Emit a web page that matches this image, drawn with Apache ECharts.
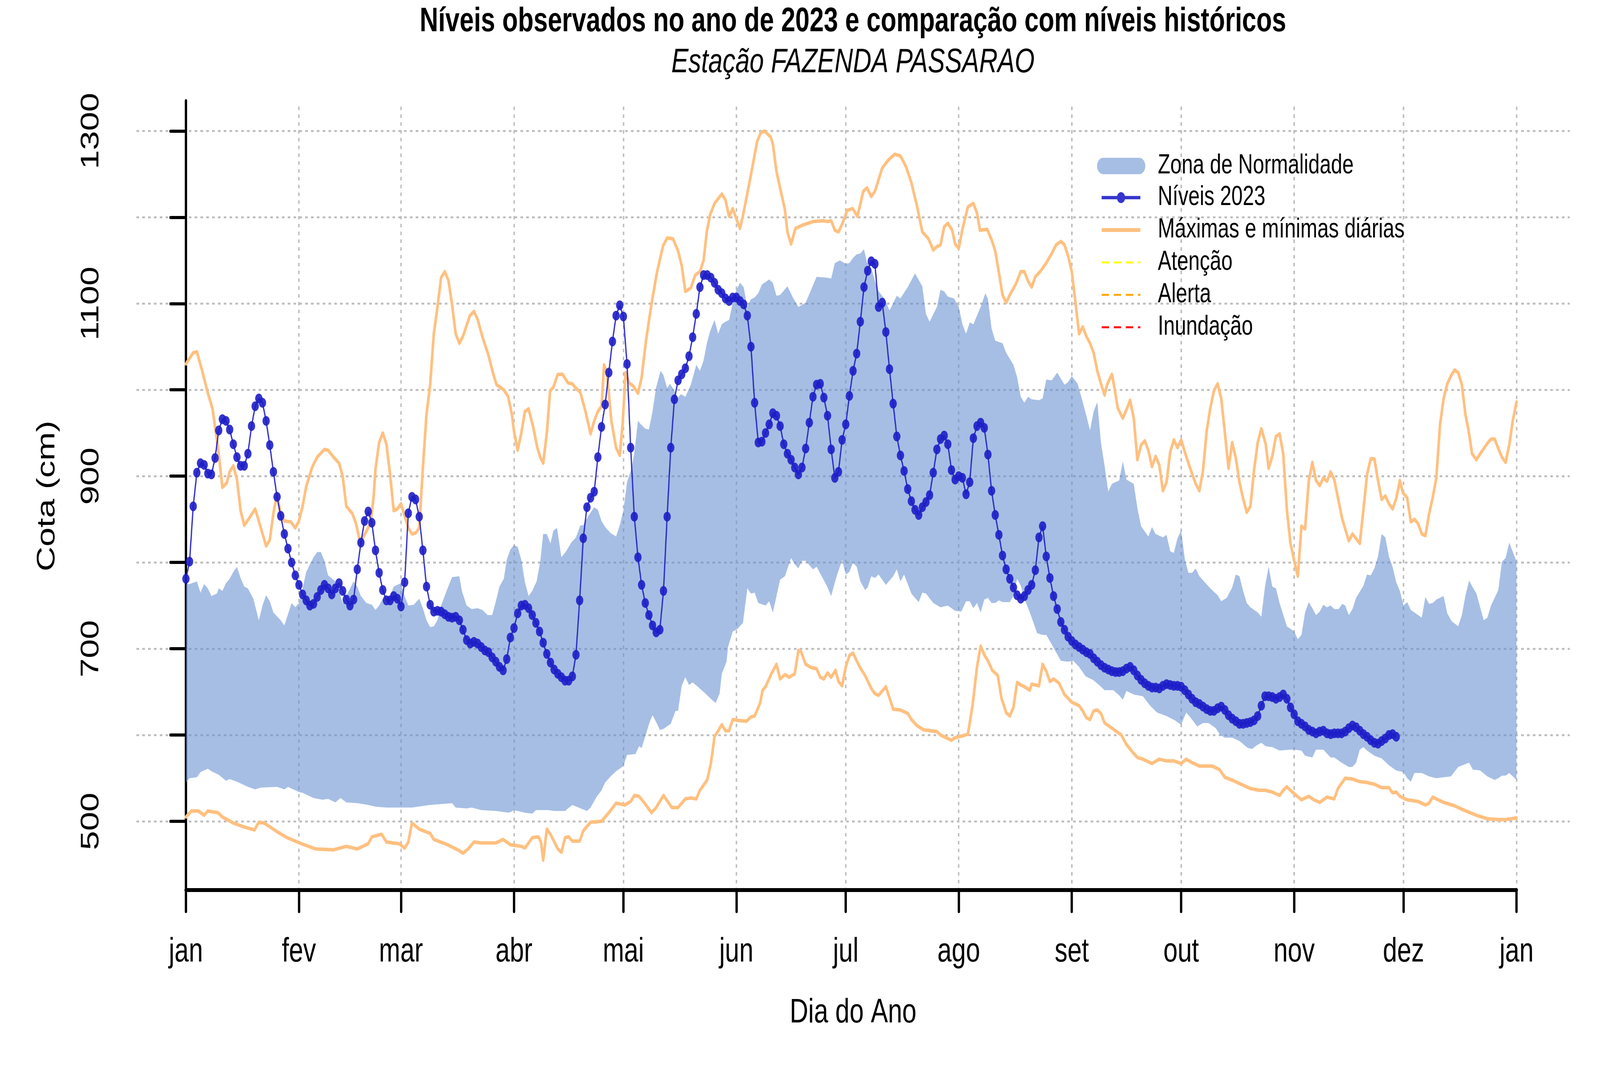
<!DOCTYPE html>
<html><head><meta charset="utf-8">
<script src="https://cdn.jsdelivr.net/npm/echarts@6/dist/echarts.min.js"></script>
<style>html,body{margin:0;padding:0;background:#fff;overflow:hidden}#wrap{position:absolute;left:0;top:0;width:5500px;height:2750px;transform-origin:0 0}#c{width:5500px;height:2750px}</style>
</head><body><div id="wrap"><div id="c"></div></div>
<script>
const monthTicks = [0,31,59,90,120,151,181,212,243,273,304,334,365];
const monthLabels = ['jan','fev','mar','abr','mai','jun','jul','ago','set','out','nov','dez','jan'];
const yTicks = [500,600,700,800,900,1000,1100,1200,1300];
const yLabels = [500,700,900,1100,1300];

// Níveis 2023, one value per day starting Jan 1 (day 0)
const levels2023 = [
781,801,865,904,915,913,903,902,921,953,
966,964,954,937,922,912,912,926,958,981,
990,985,964,936,905,876,854,833,816,800,
785,774,763,756,750,752,760,768,774,770,
763,770,776,767,757,750,757,792,823,848,
859,846,814,788,768,756,756,761,758,749,
777,857,876,873,853,814,772,751,743,744,
743,740,737,736,737,733,722,710,706,708,
706,702,698,696,690,685,679,675,688,713,
724,741,750,751,747,739,730,720,707,694,
684,676,671,667,663,663,668,693,756,828,
864,875,882,922,957,983,1020,1056,1086,1098,
1085,1030,933,853,806,774,753,739,727,719,
722,767,853,933,989,1011,1018,1025,1039,1061,
1088,1119,1133,1133,1130,1124,1116,1112,1106,1103,
1107,1107,1103,1099,1086,1050,985,939,940,950,
960,973,970,958,937,926,919,910,902,910,
932,962,992,1006,1007,991,970,931,898,905,
942,960,993,1022,1042,1079,1119,1138,1149,1146,
1096,1101,1067,1024,984,946,924,906,885,871,
861,855,864,870,878,904,931,943,947,937,
907,896,900,898,879,893,944,958,962,956,
925,883,855,832,808,792,781,771,762,758,
761,768,774,791,829,842,807,782,761,746,
731,722,714,709,705,702,699,696,694,689,
685,681,678,676,674,673,673,674,677,679,
675,669,664,660,657,655,655,654,657,659,
658,657,657,656,652,647,642,638,636,633,
630,628,628,631,633,629,623,619,616,613,
613,614,615,617,622,634,645,645,644,642,
644,647,642,632,624,616,613,610,606,604,
602,604,605,602,601,602,602,602,604,608,
611,609,605,601,598,594,591,590,593,596,
600,601,598
];

// Zona de Normalidade: upper edge [day, cm]
const bandUpper = [[0,775],[1,775],[3,778],[4,765],[5,775],[6,770],[7,761],[8.5,764],[9,770],[10,767],[11,776],[12,781],[13,789],[14,795],[15,782],[16,772],[17,770],[18.5,758],[20,733],[21,750],[22,762],[23,755],[24,742],[26,733],[27,727],[28,740],[29,753],[30,748],[31,753],[32,770],[33,789],[35,806],[36,812],[37,812],[38,802],[39,785],[41,778],[42,767],[43,753],[44,761],[46,778],[47,772],[48,761],[49.5,753],[51,751],[52,745],[53,750],[54,758],[55,750],[57,772],[59,776],[60,761],[61,750],[62.5,751],[64,758],[65,747],[66,733],[67,725],[68,726],[69,733],[70,750],[71.5,767],[73,783],[75,784],[75.7,767],[77,750],[78.4,746],[80,747],[81.3,745],[82.8,739],[84,739],[85.2,758],[86,772],[87.2,781],[88,803],[89,815],[90,820],[91,818],[92,803],[93,777],[94,761],[95,767],[96.2,778],[97.2,801],[98,833],[99,833],[100,822],[100.8,837],[101.8,840],[103,806],[104.3,813],[105.7,823],[107,829],[108.2,843],[109,843],[110.4,854],[112,864],[113,861],[114,848],[115,841],[116.5,834],[118,830],[119,843],[120,860],[121,893],[122.3,910],[123,927],[124,964],[124.8,960],[126,955],[127,954],[128,975],[129,1003],[130.2,1022],[131,1017],[132,1002],[132.8,1007],[134,999],[134.8,990],[135.8,995],[137,992],[138.5,1006],[140,1029],[141,1022],[142,1034],[142.9,1054],[143.8,1068],[145,1081],[146,1065],[147,1076],[148,1079],[149,1081],[150,1101],[151,1116],[152,1124],[153,1119],[154,1096],[155,1105],[156,1107],[157,1112],[158,1122],[160,1128],[161,1124],[162,1109],[163,1110],[165,1120],[166.5,1107],[168,1096],[170,1101],[171.5,1116],[173,1131],[175.8,1130],[177,1129],[178,1147],[179.4,1150],[181,1146],[182,1147],[183,1153],[184,1157],[185,1158],[186,1163],[186.8,1148],[188,1141],[189.7,1116],[191.7,1105],[193,1092],[195,1109],[196,1106],[198,1119],[200,1135],[202,1120],[203,1088],[204,1079],[206,1096],[207,1116],[208,1114],[209,1108],[210.7,1106],[212,1096],[213,1076],[214,1065],[215,1078],[216,1076],[218,1096],[219.3,1112],[220,1105],[221,1071],[222,1057],[224,1054],[225,1043],[227,1029],[228,1015],[229,992],[230,985],[231,992],[232,989],[234,988],[235,990],[236,1012],[237.5,1011],[239,1020],[240,1013],[241,1006],[242,1009],[243,1016],[244.6,1007],[245.8,989],[247,970],[248,953],[249,975],[250,986],[251,939],[252,912],[253,882],[254,891],[256,895],[257,917],[258,896],[260,891],[261,863],[262,842],[264,830],[265,841],[266,833],[268,829],[269,832],[270,813],[271,811],[272,828],[273,837],[274,804],[275,788],[276,788],[277,793],[278,784],[279.5,777],[281,770],[283,762],[284,755],[285.5,759],[287,771],[288,786],[289,784],[290,767],[291,753],[292,748],[294,742],[295,737],[296,772],[297,795],[298,772],[299,770],[300,753],[302,726],[304,720],[305,711],[306,716],[307,742],[308,754],[309,747],[310,739],[311,743],[312,751],[313,748],[314,750],[315,746],[316.2,746],[317.2,752],[318,750],[319,739],[320,746],[321,759],[323,773],[324,786],[325,785],[326,793],[327,807],[328,833],[329,829],[330,807],[331,795],[332,777],[333,767],[334,750],[335,754],[336,745],[338,739],[339,736],[340,760],[341,752],[342,753],[343,757],[345,761],[346,741],[347.2,732],[349,726],[350,739],[351,762],[352,779],[353,771],[354,764],[356,733],[357,736],[358,750],[360,768],[361,801],[362,805],[363,823],[364,812],[365,801]];

// Zona de Normalidade: lower edge [day, cm]
const bandLower = [[0,545],[1,550],[3,551],[4,557],[6,561],[7,558],[9,554],[11,547],[12,549],[14,546],[17,540],[19,537],[20.5,539],[25,540],[27,537],[28,540],[31,534],[32,533],[35,527],[37.5,525],[39,526],[41,522],[42.4,527],[44,522],[47,521],[50,519],[52,517],[55,516],[59,516],[62,516],[67,519],[73,521],[74,516],[77,515],[78.4,516],[81,513],[85,512],[88.6,510],[90,513],[93,510],[95,509],[96,513],[99.4,513],[101,512],[104,512],[106,519],[107.7,516],[110,512],[111,516],[112.6,528],[114,536],[115,545],[116.5,552],[118,558],[120,564],[121,577],[123.3,578],[124.3,587],[125,585],[126.2,601],[127.2,615],[128,623],[129,615],[130,606],[131,607],[133,613],[134.3,628],[135,628],[136,657],[137,667],[138,658],[139,661],[140.4,656],[142,650],[144,642],[145.3,637],[146.4,648],[147,671],[148.3,685],[148.7,702],[150,720],[151.3,723],[152.8,730],[154,770],[155,764],[156,765],[157,753],[159,750],[160,755],[161,742],[162,761],[163,780],[164.3,784],[166,805],[167,798],[168,793],[169,802],[170,802],[172,792],[173,795],[175.8,773],[177,761],[178.5,784],[180,803],[181,786],[182,789],[183,800],[184,795],[185,778],[186.3,768],[187,771],[188,784],[189,782],[190,786],[192,774],[194,784],[195,792],[196,778],[197,786],[199,764],[201,754],[202,765],[203,764],[205,753],[207,748],[209,750],[211,744],[212.7,743],[214,755],[215,755],[216,747],[217,753],[218,742],[219,757],[220,759],[221,753],[222,753],[223,756],[224,754],[226,754],[227,761],[228,781],[229,773],[230,758],[231.5,742],[233.5,718],[235,716],[236,716],[237.5,705],[240,686],[242,685],[243.4,686],[245,679],[246.8,668],[248.8,664],[250.5,658],[252,652],[254.4,652],[256,646],[257,641],[258,651],[260,647],[262.5,645],[264.5,634],[266.4,626],[269,622],[271.3,617],[273,612],[274.4,626],[276,618],[277.4,610],[279,614],[280.5,614],[282.5,608],[283.7,600],[285,597],[287,597],[289,593],[291.3,585],[292.5,584],[293.7,588],[295,591],[296.2,587],[298,586],[300,582],[303,583],[304,583],[306,582],[307,576],[309,574],[310,583],[312,583],[314,574],[315,574],[317,568],[319,563],[320,563],[321,568],[322,583],[323,586],[324,582],[326,576],[328,573],[330,565],[332,559],[334,557],[335,550],[336,546],[337,556],[339,556],[341,552],[343,550],[347,552],[349,563],[352,568],[353,560],[355,559],[357,552],[359,548],[360,550],[361,553],[362,553],[363,556],[365,548]];

// Máximas diárias [day, cm]
const dailyMax = [[0,1030],[2,1043],[3,1044],[4.4,1023],[5.9,998],[7.3,978],[8.8,933],[10,887],[11.2,892],[12,905],[13,912],[14,896],[15,860],[16,843],[17.3,851],[19,862],[20,848],[22,819],[23,826],[24,857],[25,880],[26,855],[27,848],[28.8,847],[30,840],[31,848],[32,865],[33,888],[34.6,910],[36,922],[38,931],[39,930],[40.5,922],[42,915],[43,900],[44,865],[45.6,857],[46.6,846],[47.8,823],[49,832],[50.7,846],[51.5,877],[52,908],[53,939],[54,950],[55,937],[56,902],[57,860],[58,862],[59,868],[60,854],[61,840],[62,833],[63,834],[64,840],[65,910],[66,972],[67,1006],[68,1065],[69,1096],[70,1130],[71,1137],[72,1127],[73,1099],[74,1065],[75,1054],[76,1062],[77.9,1086],[79,1091],[80,1082],[81.3,1062],[83,1040],[84.2,1020],[85.2,1006],[87.2,1000],[88.4,992],[89.4,972],[90,952],[91,930],[92,950],[93,975],[94,978],[95.2,958],[96.4,933],[97.2,922],[98,915],[99,950],[99.9,999],[100.8,1003],[102,1018],[103.3,1018],[104.8,1008],[106,1007],[107.2,1001],[108.2,997],[109.6,975],[111,949],[112,964],[113,975],[114,981],[114.7,1029],[115.5,1020],[116.7,964],[118,933],[119,924],[119.8,961],[120.6,1020],[121.6,1008],[122.8,1004],[124,996],[125,1014],[126.2,1057],[127.7,1099],[129.2,1136],[130.9,1167],[132,1176],[133.6,1175],[135,1161],[136,1144],[137,1114],[138.5,1118],[139.7,1133],[141,1137],[142,1150],[142.9,1184],[143.8,1203],[145,1216],[147,1227],[148,1220],[149,1201],[150,1210],[151,1198],[152,1187],[153,1206],[154.8,1245],[156.7,1288],[157.7,1298],[158.7,1300],[160.4,1293],[161,1285],[162,1253],[163.3,1228],[164.3,1209],[165,1183],[166,1169],[167.2,1187],[169.2,1191],[170.6,1193],[172,1195],[174.8,1196],[176,1195],[177,1196],[178,1185],[179,1183],[180,1192],[181.4,1208],[182.9,1210],[184.2,1201],[185.8,1230],[186.8,1234],[188,1224],[189,1230],[191,1257],[192.6,1266],[194.4,1273],[196,1271],[197.5,1259],[199,1240],[200.5,1214],[202,1183],[203.7,1175],[205,1162],[206,1166],[207,1168],[208,1189],[209,1193],[210.2,1185],[211,1169],[212,1164],[213,1186],[214.5,1212],[216,1216],[217,1205],[217.8,1185],[219.8,1186],[221,1174],[222,1161],[223,1136],[224,1110],[225,1101],[226,1110],[227.7,1123],[229,1137],[230,1137],[231,1126],[232,1119],[233,1131],[234.3,1137],[236,1147],[237.5,1158],[238.7,1168],[240,1172],[241,1168],[242,1155],[243,1137],[244,1102],[245,1065],[246,1073],[247,1062],[248,1054],[249,1043],[250,1022],[251,1007],[252,994],[252.7,1006],[254,1018],[254.6,1005],[255.6,979],[257,967],[258,977],[259,988],[260,967],[261,919],[262,936],[263,941],[264,930],[265,911],[266,923],[267,913],[268,883],[269,893],[270,928],[271,942],[272,933],[273,942],[274,928],[275.4,910],[277,891],[278,883],[279,907],[280,952],[281,979],[282,999],[283,1007],[284,990],[285,950],[286,909],[287,939],[288,921],[289,893],[290,874],[291,858],[292,865],[293,907],[294,939],[295,955],[296.2,937],[297,909],[298,923],[299,946],[300,949],[301,926],[302,861],[303,822],[304,802],[305,784],[306,842],[307,839],[308,894],[309,916],[310,895],[311,889],[312,898],[313,894],[314,905],[315,896],[316,875],[317.2,850],[319,825],[320,833],[322,822],[323,861],[324,902],[325,920],[326,920],[327,895],[328,873],[329,877],[330,868],[331,862],[332,874],[333,895],[333.8,881],[335,875],[336,847],[337,850],[338,845],[339,833],[340,831],[341,856],[342,875],[343,898],[344,959],[345,990],[346,1007],[347,1016],[348,1023],[349,1020],[350,1006],[351,971],[351.8,954],[352.8,926],[354,919],[355.2,927],[357,938],[358,943],[359,943],[360,932],[361,922],[362,916],[363,936],[364,965],[365,986]];

// Mínimas diárias [day, cm]
const dailyMin = [[0,505],[1.5,512],[3.4,512],[5,507],[6,512],[8.8,510],[10,505],[13,498],[15.6,494],[18.8,490],[20,499],[21.5,498],[25,488],[27.8,481],[31.7,474],[35.6,468],[40.5,467],[44,471],[47,468],[50,474],[51,482],[53.7,485],[55,476],[58.5,474],[60,469],[61,476],[62,498],[64,491],[67,486],[68,479],[71.7,473],[75,466],[76,463],[77.4,468],[79,476],[81,475],[85,475],[87,479],[89,473],[92,471],[93,469],[95,481],[96.7,482],[97.4,476],[98,455],[99,491],[100,485],[102,468],[103,464],[104,481],[105,482],[106,477],[108,477],[109,489],[111,499],[114,500],[116,510],[118,521],[120.4,519],[122,523],[123,530],[124.3,529],[126,520],[127.7,510],[129,516],[131,530],[132,524],[133.3,516],[135,516],[137,526],[138.5,527],[140,526],[141,536],[143,548],[144,567],[145,598],[147,612],[148,605],[149,605],[150,618],[151.3,617],[153.8,616],[155,621],[156,622],[157.5,637],[158.2,652],[159,656],[160.6,671],[162,682],[163,665],[164.3,670],[165.5,667],[167,671],[168,698],[168.7,697],[170,682],[171.6,678],[173,677],[174,667],[175,665],[176,672],[177,667],[178.2,675],[179,662],[180,657],[181,679],[182,692],[183,695],[184.8,679],[186.3,669],[188,654],[189,648],[190,646],[192,656],[193,643],[194,630],[196,629],[198,625],[199,618],[200.5,611],[202.4,606],[206,604],[207,600],[209,596],[210,594],[211,597],[213,599],[214.5,601],[215.8,635],[217,679],[218,703],[219,693],[220,686],[221.2,675],[222.7,669],[223.7,643],[225,626],[226,622],[227,632],[228,661],[229,658],[230,656],[231.5,652],[232,659],[234,657],[235,682],[236,674],[237,662],[238,665],[239.5,660],[241,647],[243,638],[245,634],[246,628],[247,620],[248,618],[249,628],[250,629],[251,625],[252,614],[254,608],[256.6,600],[258,589],[259.5,581],[261,574],[262.5,572],[265,567],[267,572],[269,570],[271,570],[273,567],[274.4,572],[276,568],[278,564],[281.5,564],[283.5,560],[285,551],[287.4,547],[289.4,543],[292,538],[294.4,536],[296,536],[298,534],[300,530],[301,536],[302,540],[303,536],[304,532],[306,525],[308,529],[309.4,525],[311,522],[313,528],[315,526],[316,538],[318,550],[320,549],[322,546],[324,545],[326,543],[328,539],[330,539],[331,533],[332,534],[333,529],[335,525],[338,523],[340,519],[341,521],[342,528],[345,522],[348,518],[350,514],[354,507],[357,503],[360,502],[362,502],[365,504]];

const FONT = '"Liberation Sans", Arial, sans-serif';
const bandColor = 'rgba(98,140,207,0.57)';
const levelColor = 'rgba(30,30,200,0.9)';
const extremeColor = '#FFC080';
const gridColor = '#BEBEBE';

// fit the 5500x2750 drawing to the actual viewport
(function () {
  const sx = window.innerWidth / 5500, sy = window.innerHeight / 2750;
  if (Math.abs(sx - 1) > 0.005 || Math.abs(sy - 1) > 0.005) {
    document.getElementById('wrap').style.transform = 'scale(' + sx + ',' + sy + ')';
  }
})();

const chart = echarts.init(document.getElementById('c'), null, {renderer: 'canvas', width: 5500, height: 2750});

const stadium = 'path://M21,0H145A21,21 0 0 1 145,42H21A21,21 0 0 1 21,0Z';
const lineDot = 'path://M0,9.8H133V18.2H0Z M52.5,14A14,14 0 1 1 80.5,14A14,14 0 1 1 52.5,14Z';
const solidBar = 'path://M0,0H133V10H0Z';
const dashBar = 'path://M0,0H24V5H0Z M40,0H64V5H40Z M80,0H104V5H80Z M120,0H128V5H120Z';

const option = {
  animation: false,
  backgroundColor: '#fff',
  title: [
    {text: 'Níveis observados no ano de 2023 e comparação com níveis históricos', left: 2932, top: 12, textAlign: 'center', padding: 0,
     textStyle: {fontFamily: FONT, fontSize: 88, lineHeight: 88, fontWeight: 'bold', color: '#000'}},
    {text: 'Estação FAZENDA PASSARAO', left: 2932, top: 117, textAlign: 'center', padding: 0,
     textStyle: {fontFamily: FONT, fontSize: 88, lineHeight: 88, fontStyle: 'italic', fontWeight: 'normal', color: '#000'}}
  ],
  legend: [
    {data: [{name: 'Zona de Normalidade', icon: stadium, itemStyle: {color: 'rgb(166,190,228)', borderWidth: 0}}],
     orient: 'vertical', left: 3771, top: 390, padding: 0, itemWidth: 166, itemHeight: 42, itemGap: 13,
     selectedMode: false, itemStyle: {borderWidth: 0},
     textStyle: {fontFamily: FONT, fontSize: 70, lineHeight: 70, color: '#000', padding: [0,0,0,38]}},
    {data: [
       {name: 'Níveis 2023', icon: lineDot, itemStyle: {color: 'rgb(53,53,206)', borderWidth: 0}},
       {name: 'Máximas e mínimas diárias', icon: solidBar, itemStyle: {color: extremeColor, borderWidth: 0}},
       {name: 'Atenção', icon: dashBar, itemStyle: {color: '#FFFF00', borderWidth: 0}},
       {name: 'Alerta', icon: dashBar, itemStyle: {color: '#FFA500', borderWidth: 0}},
       {name: 'Inundação', icon: dashBar, itemStyle: {color: '#FF0000', borderWidth: 0}}
     ],
     orient: 'vertical', left: 3787, top: 471, padding: 0, itemWidth: 133, itemHeight: 35, itemGap: 13,
     selectedMode: false, itemStyle: {borderWidth: 0},
     textStyle: {fontFamily: FONT, fontSize: 70, lineHeight: 70, color: '#000', padding: [0,0,0,55]}}
  ],
  grid: [
    {left: 469, right: 104, top: 258, bottom: 468, containLabel: false},
    {left: 639, right: 287, top: 273, bottom: 471, containLabel: false}
  ],
  xAxis: [
    {type: 'value', gridIndex: 0, min: -13.57, max: 379.6,
     axisLine: {show: false}, axisTick: {show: false}, axisLabel: {show: false}, splitLine: {show: false},
     name: 'Dia do Ano', nameLocation: 'middle', nameGap: 268,
     nameTextStyle: {fontFamily: FONT, fontSize: 88, lineHeight: 88, color: '#000'}},
    {type: 'value', gridIndex: 1, min: 0, max: 365, position: 'bottom',
     axisLine: {show: true, onZero: false, lineStyle: {color: '#000', width: 10, cap: 'round'}},
     axisTick: {show: true, customValues: monthTicks, length: 55, inside: false, lineStyle: {color: '#000', width: 8, cap: 'round'}},
     axisLabel: {show: true, customValues: monthTicks, margin: 115, fontFamily: FONT, fontSize: 88, lineHeight: 88, color: '#000',
       formatter: function (v) { const i = monthTicks.indexOf(v); return i >= 0 ? monthLabels[i] : ''; }},
     splitLine: {show: true, lineStyle: {color: gridColor, width: 5, type: [9, 11]}}}
  ],
  yAxis: [
    {type: 'value', gridIndex: 0, min: 419, max: 1335,
     axisLine: {show: true, lineStyle: {color: '#000', width: 8, cap: 'round'}},
     axisTick: {show: true, customValues: yTicks, length: 53, inside: false, lineStyle: {color: '#000', width: 8, cap: 'round'}},
     axisLabel: {show: true, customValues: yLabels, rotate: 90, margin: 111, fontFamily: FONT, fontSize: 88, lineHeight: 88, color: '#000',
       formatter: function (v) { return yLabels.indexOf(v) >= 0 ? String(v) : ''; }},
     splitLine: {show: true, lineStyle: {color: gridColor, width: 5, type: [9, 11]}},
     name: 'Cota (cm)', nameLocation: 'middle', nameGap: 262,
     nameTextStyle: {fontFamily: FONT, fontSize: 88, lineHeight: 88, color: '#000'}},
    {type: 'value', gridIndex: 1, min: 0, max: 1, show: false}
  ],
  series: [
    {name: 'Zona de Normalidade', type: 'custom', xAxisIndex: 0, yAxisIndex: 0, clip: true,
     data: [[0, 700]], encode: {x: 0, y: 1}, z: 1,
     itemStyle: {color: bandColor},
     renderItem: function (params, api) {
       const pts = bandUpper.map(p => api.coord(p)).concat(bandLower.slice().reverse().map(p => api.coord(p)));
       return {type: 'polygon', shape: {points: pts}, style: {fill: bandColor, stroke: null}};
     }},
    {name: 'Máximas e mínimas diárias', type: 'line', xAxisIndex: 0, yAxisIndex: 0, data: dailyMax,
     symbol: 'none', z: 2, lineStyle: {color: extremeColor, width: 9, join: 'round', cap: 'round'}, itemStyle: {color: extremeColor}},
    {name: 'Máximas e mínimas diárias', type: 'line', xAxisIndex: 0, yAxisIndex: 0, data: dailyMin,
     symbol: 'none', z: 2, lineStyle: {color: extremeColor, width: 9, join: 'round', cap: 'round'}, itemStyle: {color: extremeColor}},
    {name: 'Níveis 2023', type: 'line', xAxisIndex: 0, yAxisIndex: 0, z: 3,
     data: levels2023.map((v, i) => [i, v]),
     symbol: 'circle', symbolSize: 25, showSymbol: true, showAllSymbol: true,
     lineStyle: {color: levelColor, width: 4.5}, itemStyle: {color: levelColor, borderWidth: 0}},
    {name: 'Atenção', type: 'line', xAxisIndex: 0, yAxisIndex: 0, data: [], symbol: 'none',
     lineStyle: {color: '#FFFF00', width: 5, type: 'dashed'}, itemStyle: {color: '#FFFF00'}},
    {name: 'Alerta', type: 'line', xAxisIndex: 0, yAxisIndex: 0, data: [], symbol: 'none',
     lineStyle: {color: '#FFA500', width: 5, type: 'dashed'}, itemStyle: {color: '#FFA500'}},
    {name: 'Inundação', type: 'line', xAxisIndex: 0, yAxisIndex: 0, data: [], symbol: 'none',
     lineStyle: {color: '#FF0000', width: 5, type: 'dashed'}, itemStyle: {color: '#FF0000'}}
  ]
};
chart.setOption(option);
</script>
</body></html>
